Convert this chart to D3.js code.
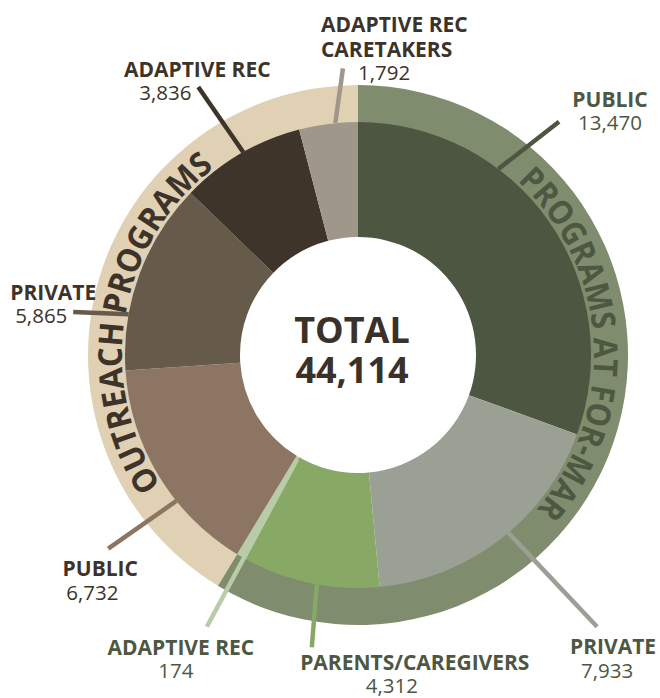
<!DOCTYPE html>
<html>
<head>
<meta charset="utf-8">
<script src="https://cdn.jsdelivr.net/npm/d3@7"></script>
<style>
  body { margin: 0; background: #fff; }
  svg { display: block; font-family: 'Open Sans', sans-serif; }
</style>
</head>
<body>
<svg width="660" height="698"></svg>
<script>
// participants by program type, clockwise from 12 o'clock
const categories = ['PUBLIC', 'PRIVATE', 'PARENTS/CAREGIVERS', 'ADAPTIVE REC',
  'PUBLIC', 'PRIVATE', 'ADAPTIVE REC', 'ADAPTIVE REC\nCARETAKERS'];
const values = [13470, 7933, 4312, 174, 6732, 5865, 3836, 1792];
const groupOf = ['PROGRAMS AT FOR-MAR', 'PROGRAMS AT FOR-MAR', 'PROGRAMS AT FOR-MAR', 'PROGRAMS AT FOR-MAR',
  'OUTREACH PROGRAMS', 'OUTREACH PROGRAMS', 'OUTREACH PROGRAMS', 'OUTREACH PROGRAMS'];
const groups = ['PROGRAMS AT FOR-MAR', 'OUTREACH PROGRAMS'];

const cx = 358, cy = 355;
const rHole = 118, rInner = 233, rRing = 270;

const sliceColors = ['#4c5641', '#9aa093', '#88a866', '#b8cca8', '#8c7663', '#665a4a', '#3e3429', '#a0978b'];
const ringColors = ['#7f8c6d', '#e0d1b5'];
const textColors = ['#4d5741', '#3d3329'];

// where each leader leaves its slice (fraction of the slice), how far it goes,
// a small tilt in degrees, and label offsets from the leader's end
const leaders = [
  { f: 0.337, r0: rInner, r1: 308, tilt: 3.7, anchor: 'middle', name: [51, -15], num: [51, 8] },
  { f: 0.461, r0: rInner, r1: 362, tilt: -1.1, anchor: 'middle', name: [16, 27], num: [10, 51] },
  { f: 0.441, r0: rInner, r1: 296, tilt: -1.2, anchor: 'middle', name: [103, 23], num: [80, 46] },
  { f: 0.3, r0: rHole + 3, r1: 311, tilt: -1.2, anchor: 'middle', name: [-26, 28], num: [-31, 51] },
  { f: 0.363, r0: rInner, r1: 316, tilt: 1.0, anchor: 'middle', name: [-8, 27], num: [-16, 51] },
  { f: 0.29, r0: rInner, r1: 288, tilt: -1.5, anchor: 'middle', name: [-20, -12], num: [-32, 11] },
  { f: 0.525, r0: rInner, r1: 312, tilt: -1.3, anchor: 'middle', name: [-1, -10], num: [-33, 13] },
  { f: 0.617, r0: rInner, r1: 287, tilt: 2.6, anchor: 'start', name: [-22, -36], num: [15, 12] }
];
// curved group titles: centre angle (deg) and length along the ring
const ringText = [{ center: 86.7, len: 364 }, { center: 279.5, len: 354 }];

const svg = d3.select('svg');
svg.append('rect').attr('width', 660).attr('height', 698).attr('fill', '#fff');
const g = svg.append('g').attr('transform', `translate(${cx},${cy})`);

const rad = (d) => d * Math.PI / 180;
const polar = (a, r) => [r * Math.sin(a), -r * Math.cos(a)];
const fmt = d3.format(',');

const rows = values.map((v, i) => ({ i, value: v, name: categories[i], group: groupOf[i] }));
const pie = d3.pie().sort(null).value((d) => d.value);
const slices = pie(rows);

const groupTotals = groups.map((k) => d3.sum(rows.filter((d) => d.group === k), (d) => d.value));
const ringSlices = d3.pie().sort(null)(groupTotals);

// outer ring
g.selectAll('.ring')
  .data(ringSlices)
  .enter()
  .append('path')
  .attr('class', 'ring')
  .attr('d', d3.arc().innerRadius(rInner - 1).outerRadius(rRing))
  .attr('fill', (d, i) => ringColors[i]);

// inner slices
g.selectAll('.slice')
  .data(slices)
  .enter()
  .append('path')
  .attr('class', 'slice')
  .attr('d', d3.arc().innerRadius(rHole).outerRadius(rInner))
  .attr('fill', (d) => sliceColors[d.data.i]);

// curved ring titles, tops facing outward
const rb = rInner + 3;
ringText.forEach((t, i) => {
  const a0 = rad(t.center - 85), a1 = rad(t.center + 85);
  const p0 = polar(a0, rb), p1 = polar(a1, rb);
  g.append('path')
    .attr('id', 'ringpath' + i)
    .attr('fill', 'none')
    .attr('d', `M${p0[0]},${p0[1]} A${rb},${rb} 0 0 1 ${p1[0]},${p1[1]}`);
  g.append('text')
    .attr('font-size', 33)
    .attr('font-weight', 700)
    .attr('fill', textColors[i])
    .append('textPath')
    .attr('href', '#ringpath' + i)
    .attr('startOffset', '50%')
    .attr('text-anchor', 'middle')
    .attr('textLength', t.len)
    .attr('lengthAdjust', 'spacingAndGlyphs')
    .text(groups[i]);
});

// leader lines
const ends = slices.map((s, k) => {
  const L = leaders[k];
  const a = s.startAngle + L.f * (s.endAngle - s.startAngle);
  return { s, L, p0: polar(a, L.r0), p1: polar(a + rad(L.tilt), L.r1) };
});

g.selectAll('.leader')
  .data(ends)
  .enter()
  .append('line')
  .attr('class', 'leader')
  .attr('x1', (d) => d.p0[0]).attr('y1', (d) => d.p0[1])
  .attr('x2', (d) => d.p1[0]).attr('y2', (d) => d.p1[1])
  .attr('stroke', (d) => sliceColors[d.s.data.i])
  .attr('stroke-width', 4.5);

// labels
ends.forEach((d) => {
  const col = textColors[groups.indexOf(d.s.data.group)];
  const lines = d.s.data.name.split('\n');
  const name = g.append('text')
    .attr('font-size', 21)
    .attr('font-weight', 700)
    .attr('fill', col)
    .attr('text-anchor', d.L.anchor);
  lines.forEach((ln, j) => {
    name.append('tspan')
      .attr('x', d.p1[0] + d.L.name[0])
      .attr('y', d.p1[1] + d.L.name[1] + j * 25)
      .text(ln);
  });
  g.append('text')
    .attr('font-size', 20.5)
    .attr('fill', col)
    .attr('text-anchor', d.L.anchor)
    .attr('x', d.p1[0] + d.L.num[0])
    .attr('y', d.p1[1] + d.L.num[1])
    .text(fmt(d.s.data.value));
});

// centre total
const total = d3.sum(values);
const centre = g.append('text')
  .attr('text-anchor', 'middle')
  .attr('font-size', 36)
  .attr('font-weight', 700)
  .attr('fill', '#3a3128');
centre.append('tspan').attr('x', -6).attr('y', -12).text('TOTAL');
centre.append('tspan').attr('x', -6).attr('y', 28).text(fmt(total));
</script>
</body>
</html>
